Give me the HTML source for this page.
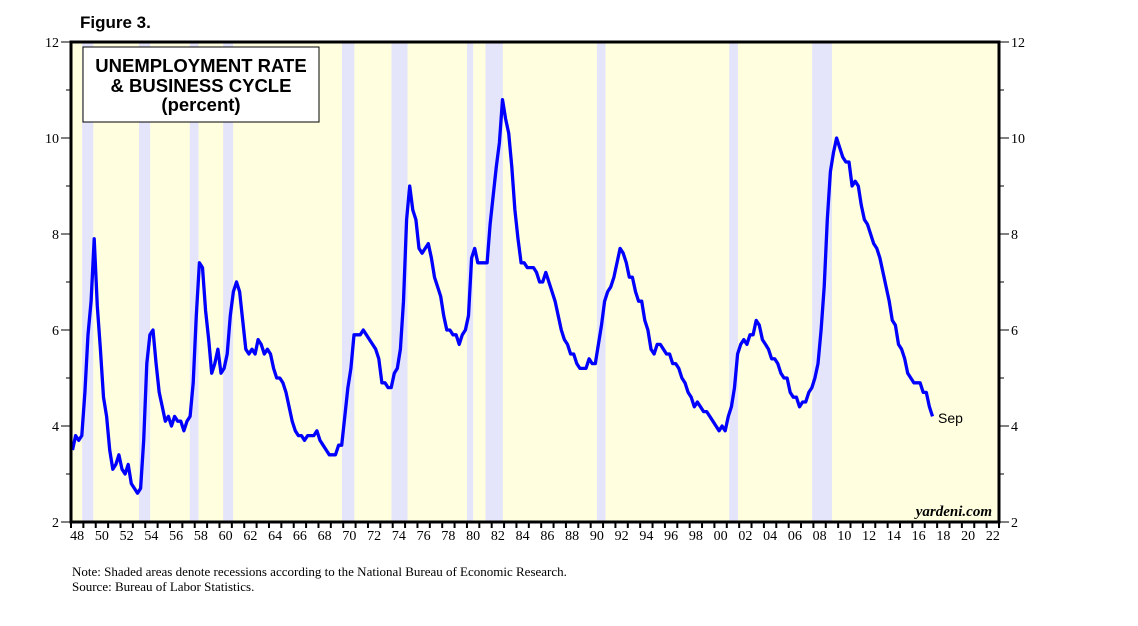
<!DOCTYPE html>
<html><head><meta charset="utf-8"><style>
body{margin:0;background:#fff;width:1138px;height:621px;overflow:hidden}
svg text{font-family:"Liberation Serif",serif}
</style></head><body>
<svg id="c" width="1138" height="621">
<text x="80" y="28" style="font-family:'Liberation Sans',sans-serif;font-weight:bold;font-size:17px">Figure 3.</text>
<rect x="71" y="42" width="928" height="480" fill="#ffffe0"/>
<g id="rec"></g>
<g id="grid"></g>
<path id="line" fill="none" stroke="#0000ff" stroke-width="3.3" stroke-linejoin="round"/>
<rect x="71" y="42" width="928" height="480" fill="none" stroke="#000" stroke-width="3"/>
<rect x="83" y="47" width="236" height="75" fill="#fff" stroke="#000" stroke-width="1"/>
<g style="font-family:'Liberation Sans',sans-serif;font-weight:bold;font-size:18.5px" text-anchor="middle">
<text x="201" y="72" style="font-family:'Liberation Sans',sans-serif">UNEMPLOYMENT RATE</text>
<text x="201" y="92" style="font-family:'Liberation Sans',sans-serif">&amp; BUSINESS CYCLE</text>
<text x="201" y="111" style="font-family:'Liberation Sans',sans-serif">(percent)</text>
</g>
<text x="938" y="423" style="font-family:'Liberation Sans',sans-serif;font-size:14px">Sep</text>
<text x="992" y="516" text-anchor="end" style="font-style:italic;font-size:15px;font-weight:bold">yardeni.com</text>
<text x="72" y="576" style="font-size:13px">Note: Shaded areas denote recessions according to the National Bureau of Economic Research.</text>
<text x="72" y="591" style="font-size:13px">Source: Bureau of Labor Statistics.</text>
</svg>
<script>
const startYear = 1948;
const yTicks = [2,4,6,8,10,12];
const xTickLabels = ["48","50","52","54","56","58","60","62","64","66","68","70","72","74","76","78","80","82","84","86","88","90","92","94","96","98","00","02","04","06","08","10","12","14","16","18","20","22"];
const recStart = [1948.9,1953.5,1957.6,1960.3,1969.9,1973.9,1980.0,1981.5,1990.5,2001.2,2007.9];
const recEnd   = [1949.8,1954.4,1958.3,1961.1,1970.9,1975.2,1980.5,1982.9,1991.2,2001.9,2009.5];
const rate = [
3.5,3.8,3.7,3.8, 4.7,5.9,6.6,7.9, 6.5,5.6,4.6,4.2, 3.5,3.1,3.2,3.4, 3.1,3.0,3.2,2.8,
2.7,2.6,2.7,3.7, 5.3,5.9,6.0,5.3, 4.7,4.4,4.1,4.2, 4.0,4.2,4.1,4.1, 3.9,4.1,4.2,4.9,
6.3,7.4,7.3,6.4, 5.8,5.1,5.3,5.6, 5.1,5.2,5.5,6.3, 6.8,7.0,6.8,6.2, 5.6,5.5,5.6,5.5,
5.8,5.7,5.5,5.6, 5.5,5.2,5.0,5.0, 4.9,4.7,4.4,4.1, 3.9,3.8,3.8,3.7, 3.8,3.8,3.8,3.9,
3.7,3.6,3.5,3.4, 3.4,3.4,3.6,3.6, 4.2,4.8,5.2,5.9, 5.9,5.9,6.0,5.9, 5.8,5.7,5.6,5.4,
4.9,4.9,4.8,4.8, 5.1,5.2,5.6,6.6, 8.3,9.0,8.5,8.3, 7.7,7.6,7.7,7.8, 7.5,7.1,6.9,6.7,
6.3,6.0,6.0,5.9, 5.9,5.7,5.9,6.0, 6.3,7.5,7.7,7.4, 7.4,7.4,7.4,8.2, 8.8,9.4,9.9,10.8,
10.4,10.1,9.4,8.5, 7.9,7.4,7.4,7.3, 7.3,7.3,7.2,7.0, 7.0,7.2,7.0,6.8, 6.6,6.3,6.0,5.8,
5.7,5.5,5.5,5.3, 5.2,5.2,5.2,5.4, 5.3,5.3,5.7,6.1, 6.6,6.8,6.9,7.1, 7.4,7.7,7.6,7.4,
7.1,7.1,6.8,6.6, 6.6,6.2,6.0,5.6, 5.5,5.7,5.7,5.6, 5.5,5.5,5.3,5.3, 5.2,5.0,4.9,4.7,
4.6,4.4,4.5,4.4, 4.3,4.3,4.2,4.1, 4.0,3.9,4.0,3.9, 4.2,4.4,4.8,5.5, 5.7,5.8,5.7,5.9,
5.9,6.2,6.1,5.8, 5.7,5.6,5.4,5.4, 5.3,5.1,5.0,5.0, 4.7,4.6,4.6,4.4, 4.5,4.5,4.7,4.8,
5.0,5.3,6.0,6.9, 8.3,9.3,9.7,10.0, 9.8,9.6,9.5,9.5, 9.0,9.1,9.0,8.6, 8.3,8.2,8.0,7.8,
7.7,7.5,7.2,6.9, 6.6,6.2,6.1,5.7, 5.6,5.4,5.1,5.0, 4.9,4.9,4.9,4.7, 4.7,4.4,4.2
];
const NS='http://www.w3.org/2000/svg';
const L=71,R=999,T=42,B=522;
const xs=y=>L+(y-startYear)*(R-L)/75;
const ys=v=>B-(v-2)*(B-T)/10;
function mk(tag,attrs,parent){const e=document.createElementNS(NS,tag);for(const k in attrs)e.setAttribute(k,attrs[k]);parent.appendChild(e);return e;}
const rec=document.getElementById('rec');
for(let i=0;i<recStart.length;i++){
 const r=mk('rect',{x:xs(recStart[i]),y:T,width:xs(recEnd[i])-xs(recStart[i]),height:B-T,fill:'#e4e4fa'},rec);
 
 
}
const g=document.getElementById('grid');
yTicks.forEach(v=>{
 const y=ys(v);
 mk('line',{x1:L-10,x2:L,y1:y,y2:y,stroke:'#000'},g);
 mk('line',{x1:R,x2:R+10,y1:y,y2:y,stroke:'#000'},g);
 const t1=mk('text',{x:L-12,y:y+5,'text-anchor':'end','font-size':'14'},g);t1.textContent=v;
 
 
 const t2=mk('text',{x:R+12,y:y+5,'font-size':'14'},g);t2.textContent=v;
 
 
 if(v<12){const ym=ys(v+1);
 mk('line',{x1:L-5,x2:L,y1:ym,y2:ym,stroke:'#000'},g);
 mk('line',{x1:R,x2:R+5,y1:ym,y2:ym,stroke:'#000'},g);}
});
for(let yr=startYear;yr<=2023;yr++){mk('line',{x1:xs(yr),x2:xs(yr),y1:B,y2:B+6,stroke:'#000','stroke-width':2},g);}
xTickLabels.forEach((lab,i)=>{
 const t=mk('text',{x:xs(startYear+2*i+0.5),y:B+18,'text-anchor':'middle','font-size':'14'},g);t.textContent=lab;
 
 
});
let d='';
rate.forEach((v,i)=>{d+=(i?'L':'M')+xs(startYear+i*0.25+0.125).toFixed(1)+','+ys(v).toFixed(1);});
document.getElementById('line').setAttribute('d',d);
</script>
</body></html>
